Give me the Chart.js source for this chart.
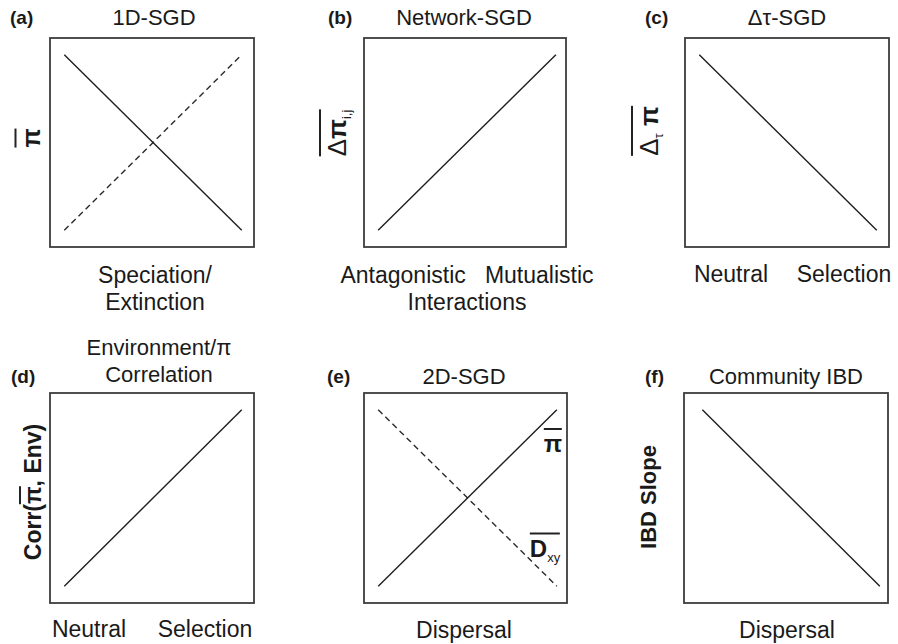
<!DOCTYPE html>
<html>
<head>
<meta charset="utf-8">
<script src="https://cdn.jsdelivr.net/npm/chart.js@4.4.1/dist/chart.umd.min.js"></script>
<style>
  body { margin:0; background:#fff; }
  #wrap { position:relative; width:898px; height:644px; overflow:hidden; font-family:'Liberation Sans', Arial, sans-serif; color:#1a1a1a; }
  canvas { position:absolute; }
  .t { position:absolute; transform:translate(-50%,-50%); white-space:nowrap; font-size:22px; line-height:1; }
  .ax { font-size:23px; }
  .tag { position:absolute; transform:translate(0,-50%); font-weight:bold; font-size:19px; line-height:1; }
  .rot { transform:translate(-50%,-50%) rotate(-90deg); }
  .ol { display:inline-block; border-top:2px solid #222; padding-top:2px; line-height:1; }
  .b { font-weight:bold; }
  sub { font-size:13px; vertical-align:-5px; }
</style>
</head>
<body>
<div id="wrap">
  <!-- panel letters -->
  <div class="tag" style="left:10px;top:17px">(a)</div>
  <div class="tag" style="left:328px;top:17px">(b)</div>
  <div class="tag" style="left:645px;top:17px">(c)</div>
  <div class="tag" style="left:11px;top:376px">(d)</div>
  <div class="tag" style="left:327px;top:376px">(e)</div>
  <div class="tag" style="left:645px;top:376px">(f)</div>

  <!-- titles -->
  <div class="t" style="left:154px;top:18px">1D-SGD</div>
  <div class="t" style="left:464px;top:18px">Network-SGD</div>
  <div class="t" style="left:787px;top:18px">Δτ-SGD</div>
  <div class="t" style="left:159px;top:348px">Environment/π</div>
  <div class="t" style="left:159px;top:375px">Correlation</div>
  <div class="t" style="left:464px;top:377px">2D-SGD</div>
  <div class="t" style="left:786px;top:377px">Community IBD</div>

  <!-- x labels -->
  <div class="t ax" style="left:155px;top:275px">Speciation/</div>
  <div class="t ax" style="left:155px;top:302px">Extinction</div>
  <div class="t ax" style="left:467px;top:275px">Antagonistic&nbsp;&nbsp;&nbsp;Mutualistic</div>
  <div class="t ax" style="left:467px;top:302px">Interactions</div>
  <div class="t ax" style="left:731px;top:274px">Neutral</div>
  <div class="t ax" style="left:844px;top:274px">Selection</div>
  <div class="t ax" style="left:89px;top:629px">Neutral</div>
  <div class="t ax" style="left:205px;top:629px">Selection</div>
  <div class="t ax" style="left:464px;top:630px">Dispersal</div>
  <div class="t ax" style="left:787px;top:630px">Dispersal</div>

  <!-- y labels -->
  <div class="t rot b" style="left:29px;top:138px;font-size:25px"><span class="ol">π</span></div>
  <div class="t rot" style="left:336px;top:133px;font-size:26px"><span class="ol" style="padding-top:3px">Δ<span class="b">π</span><sub>i,j</sub></span></div>
  <div class="t rot" style="left:648px;top:131px;font-size:26px"><span class="ol" style="padding-top:3px">Δ<sub>τ</sub>&nbsp;<span class="b">π</span></span></div>
  <div class="t rot b" style="left:32px;top:492px;font-size:23px">Corr(<span class="ol" style="padding-top:1px">π</span>, Env)</div>
  <div class="t rot b" style="left:649px;top:497px">IBD Slope</div>

  <!-- in-plot labels (e) -->
  <div class="t b" style="left:553px;top:442px;font-size:24px"><span class="ol">π</span></div>
  <div class="t" style="left:545px;top:548px;font-size:24px"><span class="ol"><span class="b">D</span><sub>xy</sub></span></div>
</div>
<script>
// endpoints of each sketched line, x and y on a 0..1 scale
const aX = [0.07, 0.94];
const aSolid = [0.92, 0.08];
const aDashed = [0.08, 0.92];

const bX = [0.07, 0.95];
const bSolid = [0.08, 0.92];

const cX = [0.07, 0.94];
const cSolid = [0.92, 0.08];

const dX = [0.07, 0.94];
const dSolid = [0.08, 0.92];

const eX = [0.07, 0.95];
const eSolid = [0.08, 0.92];
const eDashed = [0.92, 0.08];

const fX = [0.09, 0.96];
const fSolid = [0.92, 0.08];

// box around the plot area
const frame = {
  id: 'frame',
  afterDraw(chart) {
    const { ctx, chartArea: a } = chart;
    ctx.save();
    ctx.strokeStyle = '#3c3c3c';
    ctx.lineWidth = 1.8;
    ctx.strokeRect(a.left, a.top, a.right - a.left, a.bottom - a.top);
    ctx.restore();
  }
};

const pts = (xs, ys) => xs.map((x, i) => ({ x, y: ys[i] }));

function panel(box, xs, solid, dashed) {
  const pad = 3;
  const cv = document.createElement('canvas');
  cv.style.left = (box[0] - pad) + 'px';
  cv.style.top = (box[1] - pad) + 'px';
  cv.style.width = (box[2] + pad * 2) + 'px';
  cv.style.height = (box[3] + pad * 2) + 'px';
  document.getElementById('wrap').appendChild(cv);

  const sets = [{ data: pts(xs, solid), borderColor: '#1e1e1e', borderWidth: 1.4 }];
  if (dashed) sets.push({ data: pts(xs, dashed), borderColor: '#2a2a2a', borderWidth: 1.4, borderDash: [6, 4] });
  sets.forEach(s => { s.pointRadius = 0; s.showLine = true; s.fill = false; });

  new Chart(cv, {
    type: 'scatter',
    data: { datasets: sets },
    options: {
      responsive: false,
      animation: false,
      layout: { padding: pad },
      plugins: { legend: { display: false }, tooltip: { enabled: false } },
      scales: {
        x: { type: 'linear', min: 0, max: 1, display: false },
        y: { type: 'linear', min: 0, max: 1, display: false }
      }
    },
    plugins: [frame]
  });
}

// [left, top, width, height] of each box in the figure
panel([50, 38, 204, 209], aX, aSolid, aDashed);
panel([364, 38, 202, 209], bX, bSolid);
panel([685, 38, 204, 209], cX, cSolid);
panel([50, 393, 204, 210], dX, dSolid);
panel([364, 393, 203, 210], eX, eSolid, eDashed);
panel([684, 393, 204, 210], fX, fSolid);
</script>
</body>
</html>
